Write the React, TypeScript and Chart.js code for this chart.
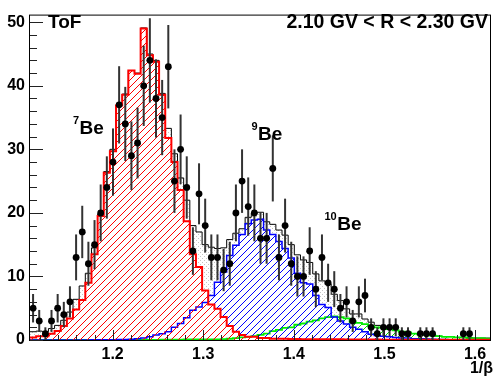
import React, { useEffect, useRef } from "react";
import { Chart, registerables } from "chart.js";

Chart.register(...registerables);

// ---- axis ranges / binning ----
const X_MIN = 1.1088;
const X_MAX = 1.6176;
const BIN_WIDTH = 0.006784; // 75 bins
const Y_MIN = 0;
const Y_MAX = 51.2;

const xTickValues = [1.2, 1.3, 1.4, 1.5, 1.6];
const yTickValues = [0, 10, 20, 30, 40, 50];

// ---- measured data (counts per bin) ----
const dataCounts = [
  5, 3, 1, 3, 5, 4, 6, 13, 17, 12,
  15, 20, 24, 28, 37, 34, 29, 31, 40, 44,
  38, 35, 43, 25, 30, 24, 14, 23, 18, 13,
  13, 11, 12, 20, 25, 21, 20, 16, 16, 27,
  13, 18, 12, 10, 10, 14, 8, 13, 9, 8,
  5, 6, 3, 6, 7, 2, 1, 2, 2, 2,
  1, 1, 0, 1, 1, 1, 0, 0, 0, 0,
  1, 1, 0, 0, 0,
];

const dataErrors = [
  2.24, 1.73, 1.0, 1.73, 2.24, 2.0, 2.45, 3.61, 4.12, 3.46,
  3.87, 4.47, 4.9, 5.29, 6.08, 5.83, 5.39, 5.57, 6.32, 6.63,
  6.16, 5.92, 6.56, 5.0, 5.48, 4.9, 3.74, 4.8, 4.24, 3.61,
  3.61, 3.32, 3.46, 4.47, 5.0, 4.58, 4.47, 4.0, 4.0, 5.2,
  3.61, 4.24, 3.46, 3.16, 3.16, 3.74, 2.83, 3.61, 3.0, 2.83,
  2.24, 2.45, 1.73, 2.45, 2.65, 1.41, 1.0, 1.41, 1.41, 1.41,
  1.0, 1.0, 0, 1.0, 1.0, 1.0, 0, 0, 0, 0,
  1.0, 1.0, 0, 0, 0,
];

// ---- fit templates ----
const be7Template = [
  0.4, 0.6, 0.6, 1.0, 1.4, 2.2, 3.4, 4.8, 6.3, 9.0,
  13.5, 19.5, 26.3, 29.7, 36.9, 38.6, 42.4, 41.9, 49.0, 44.8,
  43.8, 38.6, 31.8, 28.0, 23.6, 18.7, 13.5, 11.5, 7.8, 5.6,
  4.9, 3.6, 2.2, 1.3, 0.8, 0.5, 0.5, 0.3, 0.3, 0.2,
  0.2, 0.2, 0.15, 0.15, 0.1, 0.1, 0.1, 0.1, 0.1, 0.1,
  0.1, 0.08, 0.08, 0.07, 0.07, 0.06, 0.06, 0.05, 0.05, 0.05,
  0.05, 0.04, 0.04, 0.04, 0.04, 0.03, 0.03, 0.03, 0.03, 0.03,
  0.02, 0.02, 0.02, 0.02, 0.02,
];

const be9Template = [
  0, 0, 0, 0, 0, 0, 0, 0, 0, 0,
  0.02, 0.03, 0.04, 0.05, 0.06, 0.08, 0.1, 0.2, 0.3, 0.5,
  0.8, 1.0, 1.3, 2.0, 2.6, 3.5, 4.7, 5.2, 5.9, 7.0,
  9.1, 10.7, 13.3, 14.9, 16.6, 18.3, 18.9, 19.0, 17.3, 16.6,
  15.5, 14.4, 12.9, 10.5, 9.0, 8.8, 7.0, 5.6, 5.1, 3.6,
  3.0, 2.5, 2.0, 1.7, 1.3, 0.9, 0.7, 0.6, 0.5, 0.4,
  0.3, 0.3, 0.2, 0.2, 0.15, 0.1, 0.08, 0.06, 0.05, 0.05,
  0.04, 0.04, 0.03, 0.03, 0.03,
];

const be10Template = [
  0.02, 0.02, 0.02, 0.02, 0.02, 0.02, 0.02, 0.02, 0.02, 0.02,
  0.02, 0.02, 0.02, 0.02, 0.02, 0.02, 0.02, 0.02, 0.02, 0.02,
  0.03, 0.04, 0.05, 0.06, 0.07, 0.08, 0.09, 0.1, 0.1, 0.1,
  0.1, 0.15, 0.2, 0.3, 0.4, 0.5, 0.6, 0.8, 1.0, 1.4,
  1.6, 1.9, 2.0, 2.4, 2.6, 2.9, 3.1, 3.4, 3.6, 3.7,
  3.6, 3.4, 2.9, 2.7, 2.5, 2.2, 2.0, 1.9, 1.7, 1.5,
  1.3, 1.2, 1.0, 0.9, 0.8, 0.7, 0.6, 0.5, 0.5, 0.4,
  0.4, 0.3, 0.3, 0.3, 0.2,
];

const totalFit = [
  1.3, 1.4, 1.3, 1.8, 2.3, 3.1, 4.4, 6.4, 8.5, 10.5,
  14.5, 19.8, 26.5, 30.0, 37.0, 38.7, 42.4, 42.0, 49.1, 45.0,
  44.0, 38.8, 33.3, 29.3, 25.5, 22.0, 18.0, 17.0, 15.0, 14.6,
  14.4, 14.5, 15.8, 16.8, 17.5, 19.3, 20.0, 20.1, 18.6, 18.2,
  17.3, 16.5, 15.0, 13.4, 12.6, 12.2, 10.4, 9.3, 8.8, 7.2,
  6.2, 4.9, 4.1, 4.1, 3.3, 2.8, 2.3, 2.1, 1.8, 1.3,
  1.2, 0.9, 0.9, 0.8, 0.8, 0.6, 0.6, 0.5, 0.5, 0.4,
  0.4, 0.4, 0.3, 0.3, 0.3,
];

const binEdge = (i: number) => X_MIN + i * BIN_WIDTH;
const binCenter = (i: number) => X_MIN + (i + 0.5) * BIN_WIDTH;

function histPoints(values: number[]) {
  const pts = values.map((v, i) => ({ x: binEdge(i), y: v }));
  pts.push({ x: binEdge(values.length), y: values[values.length - 1] });
  return pts;
}

function makeHatch(color: string, size: number) {
  const c = document.createElement("canvas");
  c.width = size;
  c.height = size;
  const g = c.getContext("2d")!;
  g.strokeStyle = color;
  g.lineWidth = 1;
  g.beginPath();
  g.moveTo(0, size);
  g.lineTo(size, 0);
  g.moveTo(-1, 1);
  g.lineTo(1, -1);
  g.moveTo(size - 1, size + 1);
  g.lineTo(size + 1, size - 1);
  g.stroke();
  return g.createPattern(c, "repeat")!;
}

function makeDots(color: string) {
  const c = document.createElement("canvas");
  c.width = 4;
  c.height = 4;
  const g = c.getContext("2d")!;
  g.fillStyle = color;
  g.fillRect(0, 0, 1, 1);
  g.fillRect(2, 2, 1, 1);
  return g.createPattern(c, "repeat")!;
}

const FONT = '"Liberation Sans", Arial, Helvetica, sans-serif';
const POINTS_INDEX = 0;

const errorBarPlugin = {
  id: "errorBars",
  beforeDatasetDraw(chart: any, args: any) {
    if (args.index !== POINTS_INDEX) return;
    const { ctx, scales } = chart;
    const xs = scales.x;
    const ys = scales.y;
    ctx.save();
    ctx.strokeStyle = "#333";
    ctx.lineWidth = 2;
    dataCounts.forEach((n, i) => {
      if (n <= 0) return;
      const cx = xs.getPixelForValue(binCenter(i));
      const yTop = ys.getPixelForValue(n + dataErrors[i]);
      const yBot = ys.getPixelForValue(Math.max(0, n - dataErrors[i]));
      ctx.beginPath();
      ctx.moveTo(cx, yTop);
      ctx.lineTo(cx, yBot);
      ctx.stroke();
    });
    ctx.lineWidth = 1;
    ctx.strokeStyle = "#000";
    dataCounts.forEach((n, i) => {
      if (n <= 0) return;
      const x0 = xs.getPixelForValue(binEdge(i));
      const x1 = xs.getPixelForValue(binEdge(i + 1));
      const y = Math.round(ys.getPixelForValue(n)) + 0.5;
      ctx.beginPath();
      ctx.moveTo(x0, y);
      ctx.lineTo(x1, y);
      ctx.stroke();
    });
    ctx.restore();
  },
};

const decorPlugin = {
  id: "decor",
  afterDatasetsDraw(chart: any) {
    const { ctx, chartArea, scales } = chart;
    const xs = scales.x;
    const ys = scales.y;
    const { left, right, top, bottom } = chartArea;
    ctx.save();
    // frame
    ctx.strokeStyle = "#000";
    ctx.lineWidth = 1;
    ctx.strokeRect(left - 0.5, top + 0.5, right - left, bottom - top);
    // y ticks (inward)
    ctx.strokeStyle = "#222";
    ctx.beginPath();
    for (let v = 0; v <= Y_MAX; v += 2) {
      const y = Math.round(ys.getPixelForValue(v)) + 0.5;
      const major = v % 10 === 0;
      ctx.moveTo(left, y);
      ctx.lineTo(left + (major ? 13 : 7), y);
    }
    // x ticks (inward)
    for (let k = 56; k <= 80; k++) {
      const v = k * 0.02;
      if (v < X_MIN || v > X_MAX) continue;
      const x = Math.round(xs.getPixelForValue(v)) + 0.5;
      const major = k % 5 === 0;
      ctx.moveTo(x, bottom);
      ctx.lineTo(x, bottom - (major ? 10 : 5));
    }
    ctx.stroke();
    ctx.restore();
  },
  afterDraw(chart: any) {
    const { ctx } = chart;
    ctx.save();
    ctx.fillStyle = "#000";
    ctx.textBaseline = "alphabetic";
    ctx.font = `bold 19px ${FONT}`;
    ctx.textAlign = "left";
    ctx.fillText("ToF", 48, 28);
    ctx.font = `bold 19.5px ${FONT}`;
    ctx.textAlign = "right";
    ctx.fillText("2.10 GV < R < 2.30 GV", 488, 28);

    const iso = (sup: string, x: number, y: number) => {
      ctx.textAlign = "left";
      ctx.font = `bold 11px ${FONT}`;
      ctx.fillText(sup, x, y - 10);
      const w = ctx.measureText(sup).width;
      ctx.font = `bold 19px ${FONT}`;
      ctx.fillText("Be", x + w + 0.5, y);
    };
    iso("7", 73, 133.5);
    iso("9", 251.5, 140);
    iso("10", 324.5, 230);

    ctx.font = `bold 16px ${FONT}`;
    ctx.textAlign = "right";
    ctx.fillText("1/\u03b2", 493, 373);
    ctx.restore();
  },
};

export default function App() {
  const canvasRef = useRef<HTMLCanvasElement | null>(null);

  useEffect(() => {
    document.body.style.margin = "0";
    const canvas = canvasRef.current!;
    const redHatch = makeHatch("#ff0000", 7);
    const blueHatch = makeHatch("#0000ff", 7);
    const greenHatch = makeHatch("#00dd00", 7);
    const dots = makeDots("#c4c4c4");

    const unionOfTemplates = be7Template.map((v, i) =>
      Math.max(v, be9Template[i], be10Template[i])
    );

    const pointData = dataCounts
      .map((n, i) => ({ x: binCenter(i), y: n }))
      .filter((p) => p.y > 0);

    const hist = (values: number[]) => histPoints(values);

    const chart = new Chart(canvas, {
      type: "line",
      data: {
        datasets: [
          {
            type: "scatter",
            label: "data",
            data: pointData,
            showLine: false,
            pointRadius: 3.4,
            pointBackgroundColor: "#000",
            pointBorderColor: "#000",
            pointBorderWidth: 0,
            order: 0,
          } as any,
          {
            label: "7Be",
            data: hist(be7Template),
            stepped: "before",
            borderColor: "#ff0000",
            borderWidth: 2,
            backgroundColor: redHatch,
            fill: "origin",
            pointRadius: 0,
            order: 1,
          },
          {
            label: "9Be",
            data: hist(be9Template),
            stepped: "before",
            borderColor: "#0000ff",
            borderWidth: 1.5,
            backgroundColor: blueHatch,
            fill: "origin",
            pointRadius: 0,
            order: 2,
          },
          {
            label: "10Be",
            data: hist(be10Template),
            stepped: "before",
            borderColor: "#00ee00",
            borderWidth: 1.8,
            backgroundColor: greenHatch,
            fill: "origin",
            pointRadius: 0,
            order: 3,
          },
          {
            label: "white",
            data: hist(unionOfTemplates),
            stepped: "before",
            borderWidth: 0,
            borderColor: "rgba(0,0,0,0)",
            backgroundColor: "#ffffff",
            fill: "origin",
            pointRadius: 0,
            order: 4,
          },
          {
            label: "total",
            data: hist(totalFit),
            stepped: "before",
            borderColor: "#000",
            borderWidth: 1,
            backgroundColor: dots,
            fill: "origin",
            pointRadius: 0,
            order: 5,
          },
        ],
      },
      options: {
        responsive: false,
        animation: false,
        events: [],
        layout: { padding: { top: 7, right: 2, left: 0, bottom: 0 } },
        plugins: {
          legend: { display: false },
          tooltip: { enabled: false },
        },
        scales: {
          x: {
            type: "linear",
            min: X_MIN,
            max: X_MAX,
            border: { display: false },
            grid: { display: false, drawTicks: false },
            afterFit: (s: any) => {
              s.height = 39;
            },
            afterBuildTicks: (s: any) => {
              s.ticks = xTickValues.map((v) => ({ value: v }));
            },
            ticks: {
              padding: 5,
              color: "#000",
              font: { family: FONT, size: 16, weight: "bold" },
              callback: (v: any) => Number(v).toFixed(1),
            },
          },
          y: {
            type: "linear",
            min: Y_MIN,
            max: Y_MAX,
            border: { display: false },
            grid: { display: false, drawTicks: false },
            afterFit: (s: any) => {
              s.width = 30;
            },
            afterBuildTicks: (s: any) => {
              s.ticks = yTickValues.map((v) => ({ value: v }));
            },
            ticks: {
              padding: 5,
              color: "#000",
              font: { family: FONT, size: 16, weight: "bold" },
              callback: (v: any) => String(Math.round(Number(v))),
            },
          },
        },
      } as any,
      plugins: [errorBarPlugin, decorPlugin],
    });

    return () => chart.destroy();
  }, []);

  return (
    <div style={{ position: "fixed", left: 0, top: 0, width: 495, height: 379, background: "#fff" }}>
      <canvas ref={canvasRef} width={495} height={379} style={{ display: "block" }} />
    </div>
  );
}
